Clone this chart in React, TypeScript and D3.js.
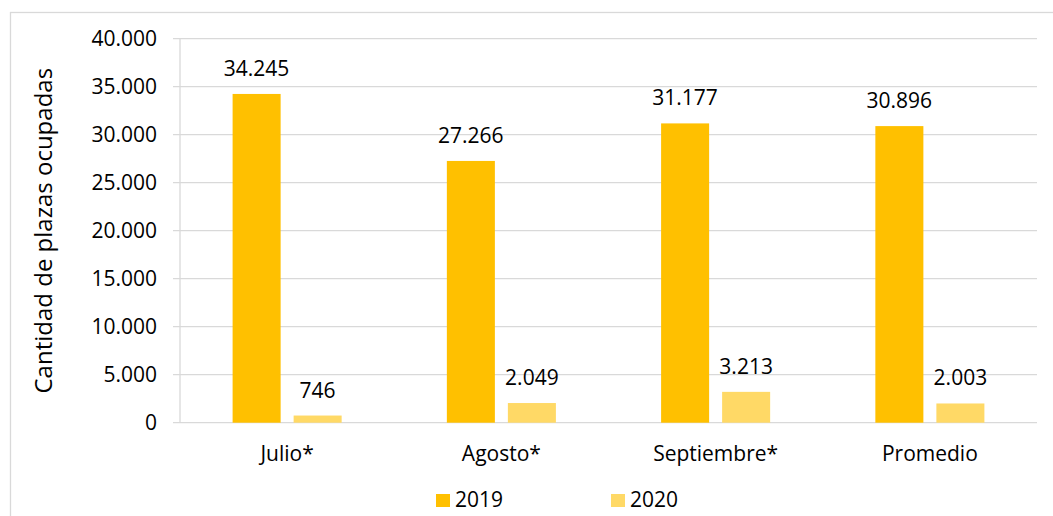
import * as d3 from "d3";
import React from "react";

const categories = ["Julio*", "Agosto*", "Septiembre*", "Promedio"];
const series = ["2019", "2020"];
const values2019 = [34245, 27266, 31177, 30896];
const values2020 = [746, 2049, 3213, 2003];
const yTicks = [0, 5000, 10000, 15000, 20000, 25000, 30000, 35000, 40000];

const colors: Record<string, string> = { "2019": "#FFC000", "2020": "#FFD966" };
const grid = "#D9D9D9";
const font = "'Open Sans', sans-serif";

const locale = d3.formatLocale({ decimal: ",", thousands: ".", grouping: [3], currency: ["", ""] });
const fmt = locale.format(",");

const App = () => {
  const width = 1053;
  const height = 516;
  const plot = { left: 180, right: 1037, top: 38.7, bottom: 422.7 };

  const x = d3.scaleBand<string>().domain(categories).range([plot.left, plot.right]).padding(0);
  const xs = d3
    .scaleBand<string>()
    .domain(series)
    .range([0, x.bandwidth()])
    .paddingInner(0.213)
    .paddingOuter(0.862);
  const y = d3.scaleLinear().domain([0, 40000]).range([plot.bottom, plot.top]);

  const rows = categories.map((c, i) => ({ c, vals: { "2019": values2019[i], "2020": values2020[i] } as Record<string, number> }));

  return (
    <div style={{ position: "absolute", left: 0, top: 0 }}>
      <svg width={width} height={height} style={{ display: "block", background: "#fff" }}>
        <rect x={10.5} y={12.5} width={1100} height={600} fill="none" stroke={grid} strokeWidth={1.3} />

        {yTicks.map((t) => (
          <g key={t}>
            <line x1={plot.left - 7} x2={plot.right} y1={y(t)} y2={y(t)} stroke={grid} strokeWidth={1.3} />
            <text x={157} y={y(t) + 7.5} textAnchor="end" fontFamily={font} fontSize={21} fill="#000">
              {fmt(t)}
            </text>
          </g>
        ))}
        <line x1={plot.left} x2={plot.left} y1={plot.top} y2={plot.bottom} stroke={grid} strokeWidth={1.3} />

        {rows.map((r) =>
          series.map((s) => {
            const bx = (x(r.c) ?? 0) + (xs(s) ?? 0);
            const by = y(r.vals[s]);
            return (
              <g key={r.c + s}>
                <rect x={bx} y={by} width={xs.bandwidth()} height={plot.bottom - by} fill={colors[s]} />
                <text x={bx + xs.bandwidth() / 2} y={by - 18} textAnchor="middle" fontFamily={font} fontSize={21} fill="#000">
                  {fmt(r.vals[s])}
                </text>
              </g>
            );
          })
        )}

        {categories.map((c) => (
          <text key={c} x={(x(c) ?? 0) + x.bandwidth() / 2} y={461} textAnchor="middle" fontFamily={font} fontSize={21} fill="#000">
            {c}
          </text>
        ))}

        <text
          transform={`translate(52,${(plot.top + plot.bottom) / 2}) rotate(-90)`}
          textAnchor="middle"
          fontFamily={font}
          fontSize={24}
          fill="#000"
        >
          Cantidad de plazas ocupadas
        </text>

        {series.map((s, i) => {
          const lx = i === 0 ? 436 : 611;
          return (
            <g key={s}>
              <rect x={lx} y={494} width={14} height={13} fill={colors[s]} />
              <text x={lx + 19} y={507} fontFamily={font} fontSize={21} fill="#000">
                {s}
              </text>
            </g>
          );
        })}
      </svg>
    </div>
  );
};

export default App;
